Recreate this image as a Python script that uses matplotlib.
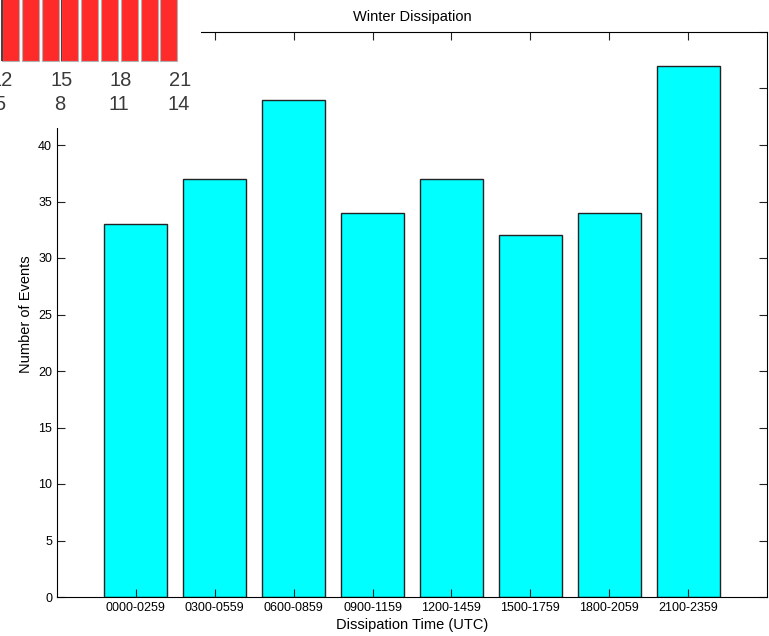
import numpy as np
import matplotlib
matplotlib.use("Agg")
import matplotlib.pyplot as plt
import matplotlib.transforms as mtransforms

plt.rcParams['font.family'] = ['Liberation Sans', 'DejaVu Sans']

# winter dissipation counts per 3-hour UTC block
time_bins = ['0000-0259', '0300-0559', '0600-0859', '0900-1159',
             '1200-1459', '1500-1759', '1800-2059', '2100-2359']
counts = [33, 37, 44, 34, 37, 32, 34, 47]

# strip of the hourly chart pasted in the corner
strip_hours = [11, 12, 13, 14, 15, 16, 17, 18, 19, 20]
strip_utc = [12, 15, 18, 21]
strip_local = [5, 8, 11, 14]

W, H = 769, 636
fig = plt.figure(figsize=(W / 100, H / 100), dpi=100)
fig.patch.set_facecolor('white')

# main axes, pixel box 57..767 x 32..597
ax = fig.add_axes([57 / W, (H - 597) / H, 710 / W, 565 / H])
x = np.arange(1, len(counts) + 1)
ax.bar(x, counts, width=0.8, color='#00ffff', edgecolor='#222222', linewidth=1.0)
ax.set_xlim(0, 9)
ax.set_ylim(0, 50)
ax.set_xticks(x)
ax.set_xticklabels(time_bins)
ax.set_yticks(np.arange(0, 51, 5))
ax.tick_params(direction='in', top=True, right=True, length=6, width=0.8,
               labelsize=9, color='#222222')
for s in ax.spines.values():
    s.set_linewidth(0.8)
ax.set_title('Winter Dissipation', fontsize=10.5, pad=8)
ax.set_xlabel('Dissipation Time (UTC)', fontsize=10.5, labelpad=3)
ax.set_ylabel('Number of Events', fontsize=10.5, labelpad=4)

# inset strip over the top-left corner (white box hides the axes corner)
ins = fig.add_axes([0, (H - 128) / H, 201 / W, 128 / H], zorder=5)
ins.set_facecolor('white')
ins.set_xlim(11.9, 11.9 + 201 / 19.8)
ins.set_ylim(0, 1)
ins.set_xticks([])
ins.set_yticks([])
for s in ins.spines.values():
    s.set_visible(False)
ins.bar(strip_hours, [1.0] * len(strip_hours), bottom=(128 - 61) / 128,
        width=0.86, align='edge', color='#ff2b2b', edgecolor='#b0b0b0',
        linewidth=0.8)
ins.bar([12, 15], [1.0, 1.0], bottom=(128 - 61) / 128, width=0.07,
        align='center', color='#444444', linewidth=0)
tr = mtransforms.blended_transform_factory(ins.transData, ins.transAxes)
for u, l in zip(strip_utc, strip_local):
    ins.text(u, (128 - 81) / 128, str(u), transform=tr, ha='center',
             va='center', fontsize=14.5, color='#3a3a3a')
    ins.text(u - 0.1, (128 - 104) / 128, str(l), transform=tr, ha='center',
             va='center', fontsize=14.5, color='#3a3a3a')

fig.savefig('out.png', dpi=100)
